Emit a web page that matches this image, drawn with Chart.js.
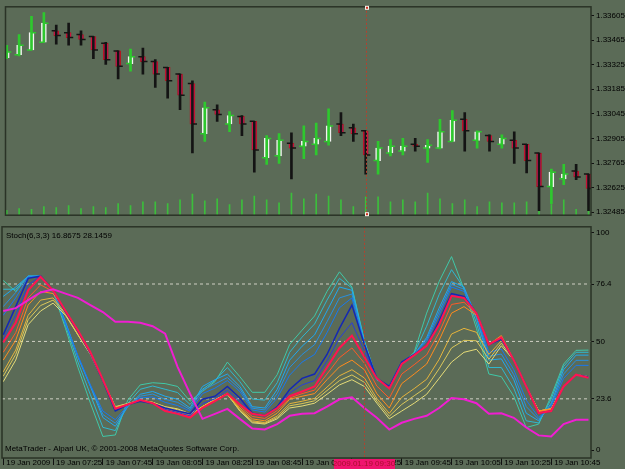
<!DOCTYPE html>
<html>
<head>
<meta charset="utf-8">
<script src="https://cdn.jsdelivr.net/npm/chart.js@4"></script>
<style>
  body { margin: 0; background: #5b6b57; width: 625px; height: 469px; overflow: hidden; position: relative; }
  canvas { position: absolute; left: 0; }
  #price { top: 0; }
  #stoch { top: 220px; }
</style>
</head>
<body>
<canvas id="price" width="625" height="222"></canvas>
<canvas id="stoch" width="625" height="249"></canvas>
<script>
// 5 minute bars, 19 Jan 2009 07:05 .. 11:00
const opens = [1.33364,1.33381,1.33408,1.33452,1.33517,1.33507,1.33496,1.33485,1.33446,1.33403,1.33331,1.33370,1.33342,1.33309,1.33271,1.33217,1.32932,1.33068,1.32987,1.33030,1.33002,1.32795,1.32806,1.32877,1.32861,1.32872,1.32888,1.32987,1.32965,1.32948,1.32779,1.32822,1.32833,1.32872,1.32850,1.32850,1.32888,1.33014,1.32894,1.32921,1.32872,1.32894,1.32872,1.32822,1.32631,1.32675,1.32719,1.32702];
const highs = [1.33435,1.33496,1.33600,1.33621,1.33550,1.33561,1.33517,1.33485,1.33452,1.33403,1.33414,1.33419,1.33353,1.33309,1.33271,1.33233,1.33112,1.33096,1.33057,1.33035,1.33002,1.32921,1.32932,1.32937,1.32976,1.32992,1.33074,1.33052,1.32987,1.32948,1.32888,1.32899,1.32905,1.32905,1.32899,1.33014,1.33063,1.33052,1.32948,1.32926,1.32926,1.32943,1.32872,1.32822,1.32730,1.32757,1.32757,1.32702];
const lows = [1.33359,1.33375,1.33408,1.33452,1.33441,1.33435,1.33435,1.33359,1.33326,1.33244,1.33288,1.33271,1.33195,1.33134,1.33068,1.32822,1.32888,1.33002,1.32943,1.32921,1.32713,1.32757,1.32762,1.32675,1.32790,1.32811,1.32866,1.32921,1.32888,1.32702,1.32702,1.32806,1.32811,1.32833,1.32768,1.32845,1.32888,1.32833,1.32850,1.32833,1.32850,1.32762,1.32708,1.32494,1.32533,1.32642,1.32670,1.32494];
const closes = [1.33397,1.33435,1.33507,1.33561,1.33490,1.33479,1.33468,1.33408,1.33353,1.33315,1.33370,1.33342,1.33271,1.33233,1.33151,1.32987,1.33079,1.33041,1.33035,1.32987,1.32839,1.32905,1.32894,1.32850,1.32888,1.32905,1.32976,1.32937,1.32932,1.32811,1.32850,1.32861,1.32861,1.32861,1.32866,1.32943,1.33008,1.32948,1.32943,1.32888,1.32905,1.32850,1.32779,1.32631,1.32713,1.32702,1.32686,1.32620];
const volumes = [5,7,6,9,8,10,7,9,8,12,10,14,14,12,16,22,15,17,11,16,20,16,13,23,17,22,20,16,9,19,19,14,16,14,23,17,12,16,9,14,13,13,14,4,11,16,6,10];

// stochastic fan (fast -> slow) plus the slow magenta line
const stTeal     = [78,73,80,80,73,56,38,21.6,6.3,7,23,30,31,30.6,29.3,22.5,27,31.5,40.5,33.8,26.6,26.6,34.7,48.6,55.2,61.7,73,82,75,50.5,32.4,29.3,39.6,45,63,77.5,89,74,56,35,33.8,24.8,10.4,12,24.8,39.6,45.9,46];
const stTeal2    = [74,74,80,80,73.5,57.5,40.5,25.5,10.5,9,21.5,28,29.5,28,26.5,21,28,32,38,31.5,23.5,23,31,45,52,58,69,79,74.5,50,32.4,29.3,40,44.5,57,71.5,83,74.5,58.5,38,38,28.5,13.5,12.5,23.5,38.5,45,45];
const stSky      = [70.7,75,80,80,73.5,59,42.8,29.3,15,11,20,25.7,27,24.8,23.4,19.4,29.3,32.4,35,29.3,20,19.4,27.9,41.4,47.8,53,64,75,73.5,49.5,32.4,29.3,40.5,44,51.8,65.3,77.5,75,60.8,41.4,42,32.4,17,13.5,21.6,37,43.7,43.7];
const stSteel    = [66,72.5,80,80,73.5,58.5,43,29.6,16.4,12.4,20.2,24.8,25.8,23.4,22,18.7,27.6,30.4,33.4,28.2,19.3,18.5,26,38,44,48.5,59,70,71.8,49.2,32.5,29.3,40.5,44,50.9,63.6,76.2,74,61.4,43.2,44.2,34.7,20,14.2,20.8,35,41.3,41.3];
const stBlue     = [62,70,79.5,80,73.5,58,43.5,30,18,14,20.5,24,24.5,22,20.5,18,26,28.5,32,27,18.5,17.5,24,34.5,40.5,44,54,65.5,70,49,32.7,29.3,40.5,44,50,62,75,73,62,45,46.5,37,23,15,20,33,39,39];
const stNavy     = [53,66,79,80,73.5,63.5,54.5,44.5,32,18,21,22.5,21.5,19.4,18,16.7,23.4,24.8,29.3,24,17,15.8,20,27.9,33,35,44,56,66.7,48.6,33,29.3,40.5,44,48,59.4,72,70.7,63,48.6,51,41.4,29.3,17,18,29.3,34.7,33.8];
const stIndigo   = [51,62,76,80,73.5,64,55,44.8,32.2,18.5,21,22.7,21.5,18.7,17.3,15.8,21.4,23.6,27.6,22.5,16.8,15.8,19.7,26.3,30,32,41,51.5,58.6,45.6,33,28.8,40,43.8,48,58.5,71.5,70.3,63,48.6,51.4,41.4,29.3,17,18,29.3,34.7,33.5];
const stRed      = [49.5,58.6,73.5,79.7,73.5,64,55,45,32.4,19,21,23,21.6,18,16.7,15,19.4,22.5,26,21,16.7,15.8,19.4,24.8,27,29.3,38,47,52.7,42.8,33,28.4,39.6,43.7,48,57.7,71,70,63,48.6,51.8,41.4,29.3,17,18,29.3,34.7,33.3];
const stOrangeRd = [45,54,70,76,73,64,54.5,45,32.2,19.2,21,23,21.7,18.5,17,15.4,19.6,22.8,26,20.2,15.5,14.6,18.2,24,26,27.6,35,42.5,47,40,29.5,23.9,35,39.3,43.8,54,67,68,62.5,48.6,52.2,41.4,29.3,17.5,18.5,29.3,34.7,33.5];
const stOrange   = [41.4,50.5,66.7,73,72,64,54,45,32,19.5,21,23,21.8,19,17.5,15.8,19.8,23,26,19.4,14.4,13.5,17,23.4,24.8,26,32.4,38.3,41.4,37,26,19.4,30.6,35,39.6,50.5,63,66,62,48.6,52.7,41.4,29.3,18,19,29.3,34.7,33.8];
const stGold     = [36,46,62,69,70,63,53.5,44.5,32,19.7,21.2,23,22,19.5,18.2,16.2,19.9,23.2,25.8,18.7,13.5,12.7,15.7,21.4,22.5,23.8,29,34.2,37,33.2,23.8,16.9,24.3,28.3,32.6,41.7,53.4,56,54.2,44,50.3,41.4,29.3,18,19,29.3,34.7,33.8];
const stKhaki    = [34,44,60,66.5,69,62.5,53,44.2,32,19.8,21.3,23,22,19.8,18.6,16.5,20,23.3,25.7,18.3,13,12.3,15,20.4,21.4,22.7,27.4,32,34.6,31.2,22.6,15.6,21,25,29,37.4,47,50.5,50.3,41.8,49.2,41.4,29.3,18,19,29.3,34.7,33.8];
const stPale     = [31.5,41.4,57.7,64,67.6,62,53,44,32,20,21.5,23,22,20,19,16.7,20,23.4,25.7,18,12.6,12,14.4,19.4,20.3,21.6,25.7,30,32.4,29.3,21.6,14.4,18,21.6,25.7,33,40.5,45,46.4,39.6,48,41.4,29.3,18,19,29.3,34.7,33.8];
const stSlow     = [64,65.3,69,72.5,74,72,70,66.7,63.5,59,59,58.6,57,53.6,38.3,26,14.4,16.7,19,14.4,10,9.5,12,15.8,16.7,17,20,23.4,24.3,19.4,14.9,9.5,12.6,14.4,15.8,19.4,24,23.4,21.6,16.7,17,14.9,10.4,6.8,6.3,12,14,14];

const priceTicks = [1.33605,1.33465,1.33325,1.33185,1.33045,1.32905,1.32765,1.32625,1.32485];
const stochTicks = [0,23.6,50,76.4,100];
const levels = [23.6,50,76.4];
const labelBars = [0,4,8,12,16,20,24,28,32,36,40,44];
const timeLabels = ['19 Jan 2009','19 Jan 07:25','19 Jan 07:45','19 Jan 08:05','19 Jan 08:25','19 Jan 08:45','19 Jan 09:05','19 Jan 09:25','19 Jan 09:45','19 Jan 10:05','19 Jan 10:25','19 Jan 10:45'];
const cursorBar = 29;
const cursorLabel = '2009.01.19 09:30';
const stochText = 'Stoch(6,3,3) 16.8675 28.1459';
const copyText = 'MetaTrader - Alpari UK, \u00a9 2001-2008 MetaQuotes Software Corp.';

const X_MIN = -0.1, X_MAX = 47.2;
const FONT = 'Liberation Sans';
const idx = closes.map((_, i) => i);
const up = idx.map(i => closes[i] >= opens[i]);
const wickColor = up.map(u => u ? '#2ec82e' : '#141414');

const frame = {
  id: 'frame',
  afterDatasetsDraw(chart) {
    const { ctx, chartArea: a, scales } = chart;
    const x = Math.round(scales.x.getPixelForValue(cursorBar)) + 0.5;
    ctx.save();
    ctx.strokeStyle = '#b4412e';
    ctx.lineWidth = 1;
    ctx.setLineDash([2, 2]);
    ctx.beginPath();
    ctx.moveTo(x, a.top);
    ctx.lineTo(x, a.bottom);
    ctx.stroke();
    ctx.restore();
  },
  afterDraw(chart) {
    const { ctx, chartArea: a } = chart;
    ctx.save();
    ctx.strokeStyle = '#2a3326';
    ctx.lineWidth = 1.5;
    ctx.strokeRect(a.left, a.top, a.right - a.left, a.bottom - a.top);
    ctx.restore();
  }
};

// little cursor markers on the price panel
const cursorMarks = {
  id: 'cursorMarks',
  afterDraw(chart) {
    const { ctx, chartArea: a, scales } = chart;
    const x = Math.round(scales.x.getPixelForValue(cursorBar));
    ctx.save();
    ctx.fillStyle = '#f4f0e8';
    ctx.fillRect(x - 1, a.top - 1, 4, 4);
    ctx.fillRect(x - 1, a.bottom - 3, 4, 4);
    ctx.fillStyle = '#d03020';
    ctx.fillRect(x, a.top, 2, 2);
    ctx.fillRect(x, a.bottom - 2, 2, 2);
    ctx.restore();
  }
};

const yTickOpts = {
  color: '#000',
  font: { family: FONT, size: 8 },
  padding: 2,
  autoSkip: false
};

new Chart(document.getElementById('price'), {
  type: 'bar',
  data: {
    datasets: [
      {
        type: 'scatter',
        data: idx.map(i => ({ x: i - 0.17, y: opens[i] })),
        pointStyle: 'line', pointRadius: 2.5, pointBorderWidth: 1.5,
        pointBorderColor: wickColor
      },
      {
        type: 'scatter',
        data: idx.map(i => ({ x: i + 0.17, y: closes[i] })),
        pointStyle: 'line', pointRadius: 2.5, pointBorderWidth: 1.5,
        pointBorderColor: wickColor
      },
      {
        data: idx.map(i => ({ x: i, y: [lows[i], highs[i]] })),
        backgroundColor: wickColor,
        barThickness: 2, grouped: false
      },
      {
        data: idx.map(i => ({ x: i, y: [opens[i], closes[i]] })),
        backgroundColor: up.map(u => u ? '#f2f2f0' : '#f0146e'),
        borderColor: up.map(u => u ? '#f2f2f0' : '#b4141e'),
        borderWidth: 1, borderSkipped: false,
        barThickness: 5, grouped: false
      },
      {
        data: idx.map(i => ({ x: i, y: volumes[i] })),
        yAxisID: 'vol',
        backgroundColor: '#3cbe3c',
        barThickness: 1, grouped: false
      }
    ]
  },
  options: {
    responsive: false, animation: false, devicePixelRatio: 1,
    layout: { padding: { left: 2, top: 2, bottom: 2, right: 0 } },
    plugins: { legend: { display: false }, tooltip: { enabled: false } },
    events: [],
    scales: {
      x: { type: 'linear', min: X_MIN, max: X_MAX, offset: false, display: false },
      y: {
        position: 'right', min: 1.32468, max: 1.33654,
        afterBuildTicks: s => { s.ticks = priceTicks.map(v => ({ value: v })); },
        afterFit: s => { s.width = 34; },
        grid: { drawOnChartArea: false, tickLength: 3, color: '#111' },
        border: { display: false },
        ticks: Object.assign({ callback: v => v.toFixed(5) }, yTickOpts)
      },
      vol: { display: false, min: 0, max: 217 }
    }
  },
  plugins: [frame, cursorMarks]
});

// first entry is drawn on top
const stochSeries = [
  { data: stSlow, color: '#f01ed2', width: 2 },
  { data: stRed, color: '#ff1450', width: 2 },
  { data: stNavy, color: '#1428b4', width: 1.5 },
  { data: stIndigo, color: '#2a3ed8', width: 1 },
  { data: stOrangeRd, color: '#ff5a28', width: 1 },
  { data: stOrange, color: '#ff8c1e', width: 1 },
  { data: stGold, color: '#e6b43c', width: 1 },
  { data: stKhaki, color: '#dcc85a', width: 1 },
  { data: stPale, color: '#e6dc78', width: 1 },
  { data: stBlue, color: '#1878f0', width: 1 },
  { data: stSteel, color: '#2890e0', width: 1 },
  { data: stSky, color: '#20a8f0', width: 1 },
  { data: stTeal2, color: '#30b8d0', width: 1 },
  { data: stTeal, color: '#40c8a8', width: 1 }
];

const stochExtras = {
  id: 'stochExtras',
  afterDraw(chart) {
    const { ctx, chartArea: a, scales } = chart;
    ctx.save();
    ctx.font = '8px "' + FONT + '"';
    ctx.fillStyle = '#000';
    ctx.textBaseline = 'top';
    ctx.fillText(stochText, 6, a.top + 5);
    ctx.textBaseline = 'alphabetic';
    ctx.fillText(copyText, 5, a.bottom - 7);
    const x = Math.round(scales.x.getPixelForValue(cursorBar));
    ctx.fillStyle = '#f0146e';
    ctx.fillRect(x - 30, a.bottom + 1, 61, 11);
    ctx.fillStyle = '#a8102e';
    ctx.textBaseline = 'top';
    ctx.textAlign = 'center';
    ctx.fillText(cursorLabel, x, a.bottom + 2);
    ctx.restore();
  }
};

new Chart(document.getElementById('stoch'), {
  type: 'line',
  data: {
    datasets: stochSeries.map(s => ({
      data: s.data.map((v, i) => ({ x: i, y: v })),
      borderColor: s.color, borderWidth: s.width,
      pointRadius: 0, tension: 0, fill: false
    })).concat(levels.map(v => ({
      data: [{ x: X_MIN, y: v }, { x: X_MAX, y: v }],
      borderColor: '#cfd0c4', borderWidth: 1, borderDash: [3, 3],
      pointRadius: 0, fill: false
    })))
  },
  options: {
    responsive: false, animation: false, devicePixelRatio: 1,
    layout: { padding: { left: 2, top: 2, bottom: 0, right: 0 } },
    plugins: { legend: { display: false }, tooltip: { enabled: false } },
    events: [],
    scales: {
      x: {
        type: 'linear', min: X_MIN, max: X_MAX,
        afterBuildTicks: s => { s.ticks = labelBars.map(v => ({ value: v })); },
        afterFit: s => { s.height = 11; },
        grid: { drawOnChartArea: false, tickLength: 7, color: '#111' },
        border: { display: false },
        ticks: {
          color: '#000', font: { family: FONT, size: 8 },
          align: 'start', labelOffset: 3, padding: -7,
          maxRotation: 0, autoSkip: false,
          callback: v => timeLabels[labelBars.indexOf(v)]
        }
      },
      y: {
        position: 'right', min: -3.6, max: 102.7,
        afterBuildTicks: s => { s.ticks = stochTicks.map(v => ({ value: v })); },
        afterFit: s => { s.width = 34; },
        grid: { drawOnChartArea: false, tickLength: 3, color: '#111' },
        border: { display: false },
        ticks: Object.assign({ callback: v => String(v) }, yTickOpts)
      }
    }
  },
  plugins: [frame, stochExtras]
});
</script>
</body>
</html>
